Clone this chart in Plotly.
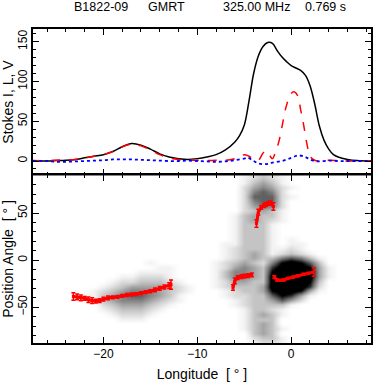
import numpy as np
import plotly.graph_objects as go
from plotly.subplots import make_subplots

# pulse profile, Stokes I / L / V vs longitude (deg)
prof_lon = [-27.5, -26, -25, -24, -23, -22, -21, -20, -19, -18, -17, -16, -15, -14, -13, -12, -11, -10,
            -9, -8, -7, -6, -5.5, -5, -4.5, -4, -3.5, -3, -2.5, -2, -1.5, -1, -0.5, 0, 0.5, 1, 1.5, 2,
            2.5, 3, 3.5, 4, 4.5, 5, 6, 7, 8.5]
stokes_i = [0, 0, 0.5, 1, 2, 4, 6, 8, 12, 18, 22, 20, 15, 9, 5, 3, 2, 3,
            5, 8, 14, 24, 32, 45, 75, 110, 132, 144, 149, 148, 139, 131, 125, 120, 117, 114, 108, 95,
            72, 44, 26, 15, 8, 5, 2, 0.5, 0]

lin_lon = [-27.5, -26, -25, -24, -23, -22, -21, -20, -19, -18, -17, -16, -15, -14, -13, -12, -11, -10,
           -9, -8, -7, -6, -5.5, -5, -4.5, -4, -3.5, -3, -2.7, -2.3, -2, -1.7, -1.3, -1, -0.5, 0, 0.3,
           0.7, 1, 1.3, 1.7, 2, 2.5, 3, 4, 5, 6, 8.5]
stokes_l = [0.5, 0.5, 1, 1.5, 2, 4, 6, 8, 12, 18, 21, 19, 14, 8, 4, 2, 1, 1,
            0.5, 1, 1, 3, 5, 8, 6, 2, 1, 10, 13, 7, 3, 10, 25, 42, 70, 85, 87,
            82, 65, 47, 20, 6, 1, 0, 1, 0.5, 0, 0]

circ_lon = [-27.5, -26, -25, -24, -23, -22, -21, -20, -19, -18, -17, -16, -15, -14, -13, -12, -11, -10,
            -9, -8, -7, -6, -5, -4.6, -4, -3.5, -3, -2.5, -2, -1, 0, 0.8, 1.5, 2, 2.5, 3, 4, 5, 6, 8.5]
stokes_v = [0, 0, -1, -1, -0.5, 0, 0.5, 1, 2, 2, 2, 1.5, 1, 0.5, 0, 0, 0.5, 0,
            -0.5, -1, -0.5, 1, 3, 4, 0, -3, -4, -3.5, -2, 0, 4, 7, 5, 2, 0, -0.5, 0.5, 0, 0, 0]

# single-pulse PA density (rows: PA 87.5 .. -87.5 step 5, cols: lon -27 .. 8 step 1)
dens_lon = list(range(-27, 9))
dens_pa = [87.5 - 5 * k for k in range(36)]
dens_rows = [
    "000000000000000000000012321000000000",
    "000000000000000000000013431000000000",
    "000000000000000000000024542100000000",
    "000000000000000000000025652000000000",
    "000000000000000000000026662100000000",
    "000000000000000000000025662000000000",
    "000000000000000000000024552000000000",
    "000000000000000000000023431000000000",
    "000000000000000000000134331000000000",
    "000000000000000000000134321000000000",
    "000000000000000000000133310000000000",
    "000000000000000000000133310000000000",
    "000000000000000000000133310000000000",
    "000000000000000000000133310100000000",
    "000000000000000000001133310110000000",
    "000000000000000000001233311210000000",
    "000000000000000000001234312321000000",
    "000000000000000000001234335653100000",
    "000000000000100000012343258986300000",
    "000000000000011000012454379998410000",
    "000000000001111000013554389999410000",
    "000000000112221000013554399999410000",
    "000000001223332100012443399998300000",
    "000000012344443210012333499997200000",
    "000000123455543210001233489984100000",
    "000001134566543100001223368741000000",
    "000000134555432100000123346420000000",
    "000000023444321000000123333100000000",
    "000000012333210000000013321000000000",
    "000000001222100000000013431000000000",
    "000000000111000000000013330000000000",
    "000000000000000000000013430000000000",
    "000000000000000000000013431000000000",
    "000000000000000000000003430000000000",
    "000000000000000000000002331000000000",
    "000000000000000000000001221000000000",
]

# mean PA tracks with errors
pa_lon_1 = [-23.2, -22.8, -22.4, -22.0, -21.6, -21.2, -20.8, -20.4, -20.0, -19.5, -19.0, -18.5, -18.0,
            -17.5, -17.0, -16.5, -16.0, -15.5, -15.0, -14.5, -14.0, -13.5, -13.0, -12.8]
pa_val_1 = [-38.5, -39, -40, -40.5, -42, -43, -43.5, -43, -41.5, -40, -39.5, -39, -38,
            -37, -36.5, -36, -35, -34, -33, -31.5, -30, -28.5, -27, -26]
pa_err_1 = [4, 3, 3, 2, 3, 3, 2, 2, 2, 2, 1.5, 1.5, 1.5,
            1.5, 1.5, 1.5, 1.5, 1.5, 1.5, 2, 2, 2, 3, 5]
pa_lon_2 = [-6.2, -6.0, -5.7, -5.3, -5.0, -4.6, -4.2]
pa_val_2 = [-29, -22, -18.5, -17.5, -17, -16.5, -15.5]
pa_err_2 = [3, 3, 2, 2, 2, 2, 2]
pa_lon_3 = [-3.7, -3.5, -3.2, -2.9, -2.7, -2.4, -2.2, -1.9]
pa_val_3 = [39, 51, 56, 58, 59, 60.5, 61, 57]
pa_err_3 = [4, 3, 2, 2, 2, 2, 2, 4]
pa_lon_4 = [-1.8, -1.5, -1.1, -0.8, -0.4, 0.2, 0.7, 1.3, 1.8, 2.4]
pa_val_4 = [-18, -21, -21.5, -21, -19.5, -18, -16.5, -15, -14, -12.5]
pa_err_4 = [1.5, 1, 1, 1, 1, 1, 1, 1, 1, 4.5]

dens = np.array([[int(c) for c in row] for row in dens_rows])

fig = make_subplots(rows=2, cols=1, shared_xaxes=True, vertical_spacing=0,
                    row_heights=[0.465, 0.535])

fig.add_trace(go.Scatter(x=prof_lon, y=stokes_i, mode='lines', line=dict(color='black', width=1.5, shape='spline')), row=1, col=1)
fig.add_trace(go.Scatter(x=lin_lon, y=stokes_l, mode='lines', line=dict(color='red', width=1.5, dash='dash', shape='spline')), row=1, col=1)
fig.add_trace(go.Scatter(x=circ_lon, y=stokes_v, mode='lines', line=dict(color='blue', width=1.8, dash='dot', shape='spline')), row=1, col=1)

gray_scale = [[0, '#ffffff'], [1 / 8, '#f2f2f2'], [2 / 8, '#dcdcdc'], [3 / 8, '#c4c4c4'], [4 / 8, '#a4a4a4'],
              [5 / 8, '#858585'], [6 / 8, '#606060'], [7 / 8, '#303030'], [1, '#000000']]
fig.add_trace(go.Heatmap(x=dens_lon, y=dens_pa, z=dens, zmin=0, zmax=8, zsmooth='best',
                         colorscale=gray_scale, showscale=False), row=2, col=1)

for lon, pa, err in [(pa_lon_1, pa_val_1, pa_err_1), (pa_lon_2, pa_val_2, pa_err_2),
                     (pa_lon_3, pa_val_3, pa_err_3), (pa_lon_4, pa_val_4, pa_err_4)]:
    fig.add_trace(go.Scatter(x=lon, y=pa, mode='lines+markers',
                             line=dict(color='red', width=3),
                             marker=dict(color='red', size=3, symbol='square'),
                             error_y=dict(type='data', array=err, color='red', thickness=1.5, width=2)),
                  row=2, col=1)

font = dict(family='Liberation Sans, Arial, sans-serif', size=12, color='black')
axis_style = dict(showline=True, linecolor='black', linewidth=1.5, mirror='allticks', ticks='inside',
                  ticklen=6, tickcolor='black', tickwidth=1, showgrid=False, zeroline=False,
                  automargin=False)

fig.update_xaxes(range=[-27.5, 8.5], dtick=10, tick0=0,
                 minor=dict(ticks='inside', ticklen=3, dtick=2, tickcolor='black'), **axis_style)
fig.update_xaxes(showticklabels=False, row=1, col=1)
fig.update_xaxes(title=dict(text='Longitude  [ ° ]', standoff=9), ticklabelstandoff=-1, row=2, col=1)
fig.update_yaxes(tickangle=-90, ticklabelstandoff=-1, **axis_style)
fig.update_yaxes(range=[-17.6, 166], dtick=50, minor=dict(ticks='inside', ticklen=3, dtick=10, tickcolor='black'),
                 title=dict(text='Stokes I, L, V', standoff=5), row=1, col=1)
fig.update_yaxes(range=[-88, 90.5], tickvals=[-50, 0, 50], minor=dict(ticks='inside', ticklen=3, dtick=10, tickcolor='black'),
                 title=dict(text='Position Angle  [ ° ]', standoff=5), row=2, col=1)

for txt, xp in [('B1822-09', 0.115), ('GMRT', 0.335), ('325.00 MHz', 0.557), ('0.769 s', 0.8)]:
    fig.add_annotation(text=txt, x=xp, y=1.07, xref='paper', yref='paper', xanchor='left',
                       yanchor='middle', showarrow=False, font=dict(font, size=12.5))

fig.update_layout(width=374, height=382, margin=dict(l=33, r=3, t=29, b=39),
                  paper_bgcolor='white', plot_bgcolor='white', showlegend=False, font=font)

fig.write_html("out.html", config={'displayModeBar': False},
               post_script="document.body.style.margin='0px';")
